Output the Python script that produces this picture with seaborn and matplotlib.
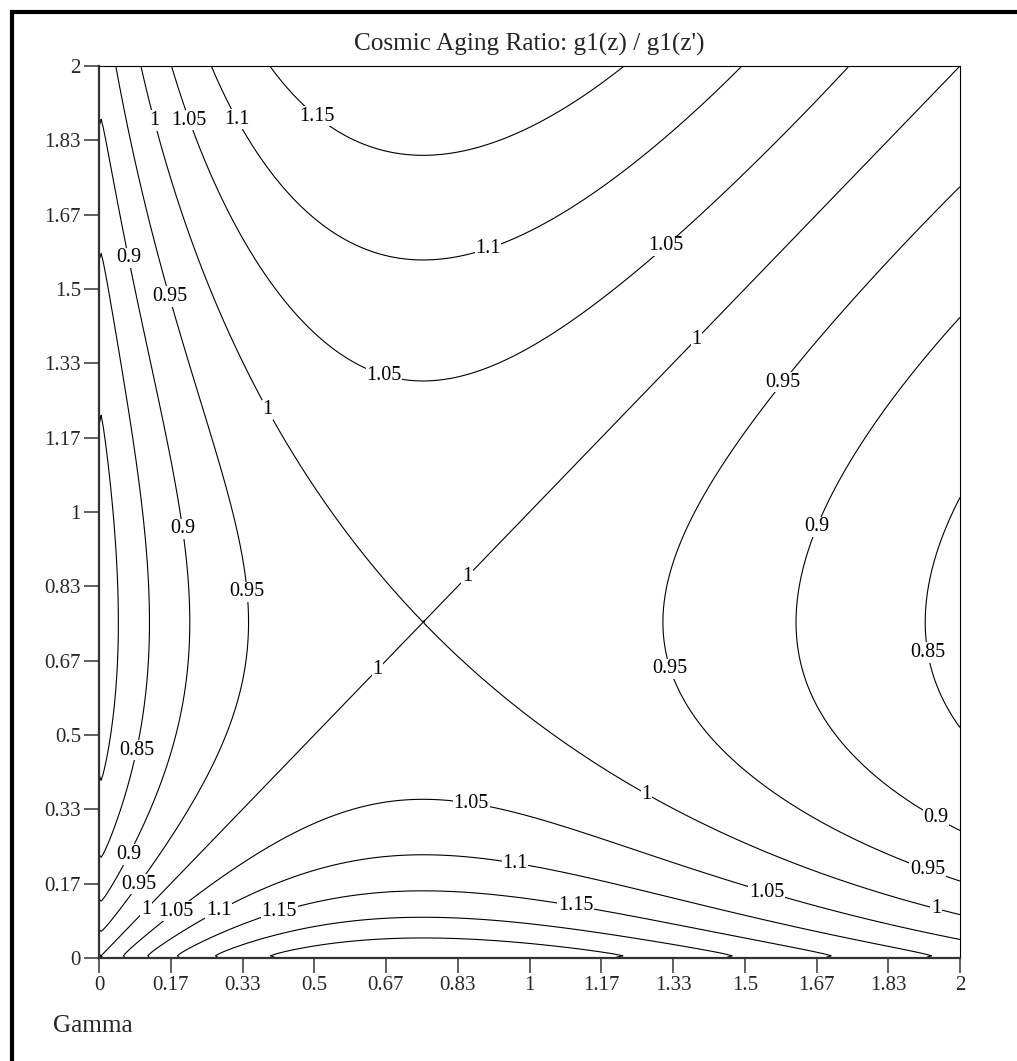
import numpy as np
import matplotlib
matplotlib.use("Agg")
import matplotlib.pyplot as plt
import seaborn as sns
from matplotlib.patches import Rectangle

# g1 profile (where it crosses the drawn contours), peak = 1
gamma_knots = [0.0, 0.045, 0.058, 0.094, 0.134, 0.157, 0.238, 0.361, 0.399,
               0.75, 1.278, 1.554, 1.794, 2.0]
g1_knots = [0.771, 0.800, 0.812, 0.833, 0.857, 0.870, 0.909, 0.952, 0.964,
            1.0, 0.952, 0.909, 0.870, 0.836]

levels = [0.8, 0.85, 0.9, 0.95, 1.0, 1.05, 1.1, 1.15, 1.2, 1.25]
tick_labels = ["0", "0.17", "0.33", "0.5", "0.67", "0.83", "1",
               "1.17", "1.33", "1.5", "1.67", "1.83", "2"]

# where the contour labels sit (data coords)
label_spots = [(0.132, 1.879), (0.211, 1.879), (0.318, 1.879), (0.504, 1.886),
               (0.906, 1.585), (1.315, 1.599), (0.067, 1.570), (0.160, 1.482),
               (1.389, 1.386), (0.653, 1.278), (1.589, 1.291), (0.381, 1.224),
               (0.204, 0.964), (1.635, 0.980), (0.344, 0.821), (0.862, 0.848),
               (0.653, 0.641), (1.303, 0.641), (1.888, 0.679), (0.088, 0.466),
               (0.864, 0.342), (1.264, 0.354), (1.942, 0.309), (0.966, 0.209),
               (1.926, 0.202), (1.552, 0.152), (1.942, 0.103), (1.106, 0.112),
               (0.072, 0.231), (0.095, 0.164), (0.116, 0.103), (0.181, 0.101),
               (0.281, 0.101), (0.420, 0.101)]

sns.set_theme(style="ticks")
plt.rcParams["font.family"] = ["Liberation Serif", "DejaVu Serif"]

# smooth g1 through the knots (it is smooth in sqrt(gamma))
coef = np.polyfit(np.sqrt(gamma_knots), g1_knots, 4)


def g1(gm):
    return np.polyval(coef, np.sqrt(gm))


grid = np.linspace(0, 2, 401)
X, Y = np.meshgrid(grid, grid)
Z = g1(X) / g1(Y)

W, H = 1017, 1061
fig = plt.figure(figsize=(W / 100, H / 100), dpi=100)
ax = fig.add_axes([99 / W, 1 - 958 / H, 861 / W, 892 / H])

cs = ax.contour(X, Y, Z, levels=levels, colors="black", linewidths=0.8)
labels = ax.clabel(cs, manual=label_spots, inline=False, fmt="%g", fontsize=14.5)
for t in labels:
    t.set_rotation(0)
    t.set_bbox(dict(facecolor="white", edgecolor="none", pad=0.5))

ticks = np.arange(13) / 6
ax.set_xlim(0, 2)
ax.set_ylim(0, 2)
ax.set_xticks(ticks)
ax.set_yticks(ticks)
ax.set_xticklabels(tick_labels, fontsize=15)
ax.set_yticklabels(tick_labels, fontsize=15)
ax.tick_params(direction="out", length=11, width=1.2, color="#444444", pad=2,
               top=False, right=False)
for side in ["left", "bottom"]:
    ax.spines[side].set_linewidth(1.6)
    ax.spines[side].set_color("#333333")
for side in ["top", "right"]:
    ax.spines[side].set_linewidth(0.8)
    ax.spines[side].set_color("black")

fig.text(529.5 / W, 1 - 44 / H, "Cosmic Aging Ratio: g1(z) / g1(z')",
         ha="center", va="center", fontsize=18.2)
fig.text(53 / W, 1 - 1026 / H, "Gamma", ha="left", va="center", fontsize=18.2)

# outer frame, only the top and left edges show in the picture
fig.patches.append(Rectangle((12 / W, -0.2), 1.5, 1.2 - 12 / H,
                             transform=fig.transFigure, fill=False,
                             edgecolor="black", linewidth=3, clip_on=False))

fig.savefig("out.png", dpi=100)
